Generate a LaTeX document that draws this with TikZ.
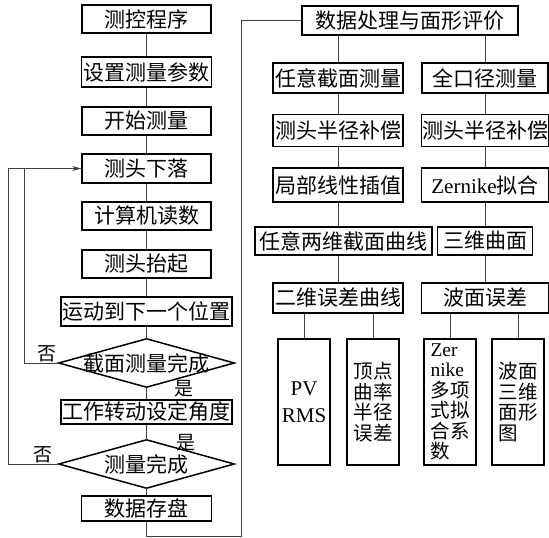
\documentclass[tikz,border=0pt]{standalone}
\usepackage{fontspec}
\setmainfont{Liberation Serif}
\newfontfamily\cjk{Noto Sans CJK SC}
\usetikzlibrary{arrows.meta}
\begin{document}
\begin{tikzpicture}[x=1pt,y=-1pt,
  box/.style={draw=black,line width=1.5pt,inner sep=0pt,font=\fontsize{21}{20.5}\selectfont\cjk},
  tall/.style={draw=black,line width=1.5pt,inner sep=0pt,minimum width=52pt,minimum height=126pt,align=left,font=\fontsize{19.5}{20.5}\selectfont\cjk},
  plain/.style={inner sep=0pt,font=\fontsize{21}{20.5}\selectfont\cjk},
  lab/.style={inner sep=0pt,font=\fontsize{19}{20}\selectfont\cjk},
  conn/.style={draw=black!75,line width=0.9pt},
  arr/.style={conn,-{Stealth[length=9pt,width=5pt]}}
]
\useasboundingbox (0,0) rectangle (549,538);
% left column
\node[box,minimum width=129pt,minimum height=28pt] (a1) at (146.5,19) {测控程序};
\node[box,minimum width=130pt,minimum height=30pt] (a2) at (146.5,72) {设置测量参数};
\node[box,minimum width=129pt,minimum height=28pt] (a3) at (146.5,121) {开始测量};
\node[box,minimum width=129pt,minimum height=29pt] (a4) at (146.5,168.5) {测头下落};
\node[box,minimum width=129pt,minimum height=28pt] (a5) at (146.5,216) {计算机读数};
\node[box,minimum width=129pt,minimum height=28pt] (a6) at (146.5,264) {测头抬起};
\node[box,minimum width=171pt,minimum height=29pt] (a7) at (146.5,311.5) {运动到下一个位置};
\node[inner sep=0pt,minimum width=175pt,minimum height=48pt] (d1) at (146.5,363) {};
\draw[line width=1.5pt] (d1.west)--(d1.north)--(d1.east)--(d1.south)--cycle;
\node[plain] (t1) at (d1.center) {截面测量完成};
\node[box,minimum width=171pt,minimum height=24pt] (a8) at (146.5,412) {工作转动设定角度};
\node[inner sep=0pt,minimum width=175pt,minimum height=48pt] (d2) at (146.5,464) {};
\draw[line width=1.5pt] (d2.west)--(d2.north)--(d2.east)--(d2.south)--cycle;
\node[plain] (t2) at (d2.center) {测量完成};
\node[box,minimum width=130pt,minimum height=25pt] (a9) at (146.5,508.5) {数据存盘};
% labels
\node[lab] (n1) at (47,354) {否};
\node[lab] (y1) at (184,389) {是};
\node[lab] (n2) at (43,455) {否};
\node[lab] (y2) at (186,443) {是};
% left connectors
\foreach \u/\v in {a1/a2,a2/a3,a3/a4,a4/a5,a5/a6,a6/a7,a7/d1,d1/a8,a8/d2,d2/a9}
  \draw[conn] (\u.south) -- (\v.north);
\coordinate (f1) at (24,168.5);
\coordinate (f2) at (8,168.5);
\draw[conn] (d1.west) -| (f1) -- (a4.west);
\draw[arr] (d2.west) -| (f2) -- (a4.west);
\coordinate (r1) at (241,536);
% right part
\node[box,minimum width=216pt,minimum height=29pt] (b0) at (410,20.5) {数据处理与面形评价};
\draw[conn] (a9.south) |- (r1) |- (b0.west);
\node[box,minimum width=130pt,minimum height=30pt] (b1) at (338,78) {任意截面测量};
\node[box,minimum width=126pt,minimum height=30pt] (b2) at (485,78) {全口径测量};
\node[box,minimum width=130pt,minimum height=32pt] (b3) at (338,130.5) {测头半径补偿};
\node[box,minimum width=127pt,minimum height=32pt] (b4) at (485,130.5) {测头半径补偿};
\node[box,minimum width=130pt,minimum height=34pt] (b5) at (338,185) {局部线性插值};
\node[box,minimum width=127pt,minimum height=34pt] (b6) at (485,185) {{\rmfamily Zernike}拟合};
\node[box,minimum width=177pt,minimum height=28pt] (b7) at (343.5,241) {任意两维截面曲线};
\node[box,minimum width=95pt,minimum height=28pt] (b8) at (485,241) {三维曲面};
\node[box,minimum width=130pt,minimum height=30pt] (b9) at (338,298) {二维误差曲线};
\node[box,minimum width=127pt,minimum height=30pt] (b10) at (485,298) {波面误差};
\node[tall,align=center,font=\fontsize{21}{21}\selectfont] (c1) at (304,402) {PV\\[6pt]RMS};
\node[tall] (c2) at (373,402) {顶点\\曲率\\半径\\误差};
\node[tall] (c3) at (450,402) {{\rmfamily Zer}\\{\rmfamily nike}\\多项\\式拟\\合系\\数};
\node[tall] (c4) at (518,402) {波面\\三维\\面形\\图};
\draw[conn] (b1.north) -- (b1.north |- b0.south);
\draw[conn] (b2.north) -- (b2.north |- b0.south);
\draw[conn] (b1.south) -- (b3.north);
\draw[conn] (b3.south) -- (b5.north);
\draw[conn] (b5.south) -- (b5.south |- b7.north);
\draw[conn] (b9.north |- b7.south) -- (b9.north);
\draw[conn] (b2.south) -- (b4.north);
\draw[conn] (b4.south) -- (b6.north);
\draw[conn] (b6.south) -- (b8.north);
\draw[conn] (b8.south) -- (b10.north);
\draw[conn] (c1.north) -- (c1.north |- b9.south);
\draw[conn] (c2.north) -- (c2.north |- b9.south);
\draw[conn] (c3.north) -- (c3.north |- b10.south);
\draw[conn] (c4.north) -- (c4.north |- b10.south);
\end{tikzpicture}
\end{document}
